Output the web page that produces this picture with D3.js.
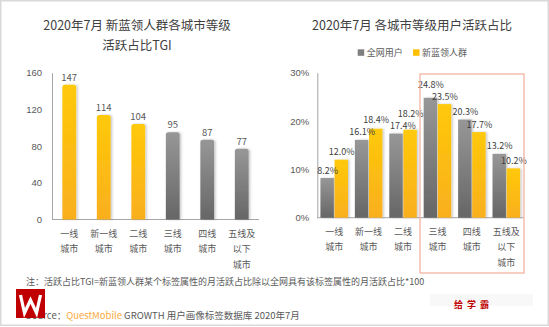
<!DOCTYPE html>
<html><head><meta charset="utf-8">
<script src="https://cdn.jsdelivr.net/npm/d3@7"></script>
<style>
html,body{margin:0;padding:0;background:#fff;}
svg{display:block;font-family:"Noto Sans CJK SC","Noto Sans",sans-serif;}
</style></head>
<body><svg id="c" width="549" height="327"></svg>
<script>
// ---- data ----
const cities = ["一线城市","新一线城市","二线城市","三线城市","四线城市","五线及以下城市"];
const cityLines = [["一线","城市"],["新一线","城市"],["二线","城市"],["三线","城市"],["四线","城市"],["五线及","以下","城市"]];
const tgiValues = [147,114,104,95,87,77];
const tgiHighlight = [true,true,true,false,false,false];
const tgiTicks = [0,40,80,120,160];
const seriesNames = ["全网用户","新蓝领人群"];
const allUsers = [8.2,16.1,17.4,24.8,20.3,13.2];
const blueCollar = [12.0,18.4,18.2,23.5,17.7,10.2];
const pctTicks = [0,10,20,30];

const svg = d3.select("#c");
const defs = svg.append("defs");
function grad(id, top, bottom){
  const g = defs.append("linearGradient").attr("id",id).attr("x1",0).attr("y1",0).attr("x2",0).attr("y2",1);
  g.append("stop").attr("offset","0%").attr("stop-color",top);
  g.append("stop").attr("offset","100%").attr("stop-color",bottom);
}
grad("gy","#FFC907","#F9AF1F");
grad("gg","#979797","#666666");
const f = defs.append("filter").attr("id","sh").attr("x","-30%").attr("y","-10%").attr("width","160%").attr("height","120%");
f.append("feDropShadow").attr("dx",1.5).attr("dy",0).attr("stdDeviation",1).attr("flood-color","#000").attr("flood-opacity",0.22);

const textCol = "#595959";
const axisCol = "#a6a6a6";

// frame
svg.append("rect").attr("x",0.75).attr("y",0.75).attr("width",547.5).attr("height",324.5)
  .attr("fill","none").attr("stroke","#d9d9d9").attr("stroke-width",1.5);

// ---------- left chart ----------
const yL = d3.scaleLinear().domain([0,160]).range([219.5,72.7]);
const xL = d3.scaleBand().domain(cities).range([52,259]).paddingInner(0.6).paddingOuter(0.3);

svg.append("text").attr("x",137).attr("y",30).attr("text-anchor","middle").attr("font-size",12.5).attr("fill","#404040").text("2020年7月 新蓝领人群各城市等级");
svg.append("text").attr("x",137).attr("y",50).attr("text-anchor","middle").attr("font-size",12.5).attr("fill","#404040").text("活跃占比TGI");

const axL = svg.append("g").attr("transform","translate(52,0)")
  .call(d3.axisLeft(yL).tickValues(tgiTicks).tickSize(0).tickPadding(10).tickSizeOuter(0));
axL.select(".domain").attr("stroke",axisCol);
axL.selectAll("text").attr("font-size",9.5).attr("fill",textCol).attr("font-family","inherit");

svg.append("line").attr("x1",52).attr("x2",259).attr("y1",yL(0)).attr("y2",yL(0)).attr("stroke",axisCol);

function topRounded(x,y,w,h,r){
  return `M${x},${y+h}V${y+r}Q${x},${y} ${x+r},${y}H${x+w-r}Q${x+w},${y} ${x+w},${y+r}V${y+h}Z`;
}
svg.append("g").selectAll("path").data(tgiValues).join("path")
  .attr("d",(d,i)=>topRounded(xL(cities[i]), yL(d), xL.bandwidth(), yL(0)-yL(d), 2.5))
  .attr("fill",(d,i)=>tgiHighlight[i]?"url(#gy)":"url(#gg)")
  .attr("filter","url(#sh)");
svg.append("g").selectAll("text").data(tgiValues).join("text")
  .attr("x",(d,i)=>xL(cities[i])+xL.bandwidth()/2).attr("y",d=>yL(d)-4)
  .attr("text-anchor","middle").attr("font-size",9.5).attr("fill",textCol).text(d=>d);

const catL = svg.append("g").selectAll("text").data(cityLines).join("text")
  .attr("text-anchor","middle").attr("font-size",9).attr("fill",textCol);
catL.each(function(lines,i){
  d3.select(this).selectAll("tspan").data(lines).join("tspan")
    .attr("x",xL(cities[i])+xL.bandwidth()/2).attr("y",(d,j)=>236.5+j*15.8).text(d=>d);
});

// ---------- right chart ----------
const yR = d3.scaleLinear().domain([0,30]).range([217.7,72.7]);
const x0 = d3.scaleBand().domain(cities).range([317,523.5]).paddingInner(0.2).paddingOuter(0.1);
const x1 = d3.scaleBand().domain(seriesNames).range([0,x0.bandwidth()]).paddingInner(0.05);
const sCol = {"全网用户":"url(#gg)","新蓝领人群":"url(#gy)"};
const sLeg = {"全网用户":"#7f7f7f","新蓝领人群":"#FFC000"};

svg.append("text").attr("x",412).attr("y",30).attr("text-anchor","middle").attr("font-size",12.5).attr("fill","#404040").text("2020年7月 各城市等级用户活跃占比");

// legend
const legX = [357.7, 413];
const leg = svg.append("g").selectAll("g").data(seriesNames).join("g")
  .attr("transform",(d,i)=>`translate(${legX[i]},49.3)`);
leg.append("rect").attr("width",6.5).attr("height",6.5).attr("fill",d=>sLeg[d]);
leg.append("text").attr("x",9).attr("y",7).attr("font-size",9).attr("fill",textCol).text(d=>d);

const axR = svg.append("g").attr("transform","translate(317.3,0)")
  .call(d3.axisLeft(yR).tickValues(pctTicks).tickSize(0).tickPadding(8).tickFormat(d=>d+"%"));
axR.select(".domain").attr("stroke",axisCol);
axR.selectAll("text").attr("font-size",9.5).attr("fill",textCol).attr("font-family","inherit");
svg.append("line").attr("x1",317).attr("x2",523.5).attr("y1",yR(0)).attr("y2",yR(0)).attr("stroke",axisCol);

// label positions: above bar top, lifting the higher label when the pair would collide
const rows = cities.map((c,i)=>{
  const vals = [{s:seriesNames[0],v:allUsers[i]},{s:seriesNames[1],v:blueCollar[i]}];
  vals.forEach(o=>o.ly = yR(o.v)-4.5);
  const gap = 12;
  const [a,b] = vals;
  if (Math.abs(a.ly-b.ly) < gap){
    if (a.v >= b.v) a.ly = b.ly - gap; else b.ly = a.ly - gap;
  }
  return {city:c, vals};
});
const grp = svg.append("g").selectAll("g").data(rows).join("g")
  .attr("transform",d=>`translate(${x0(d.city)},0)`);
grp.selectAll("rect").data(d=>d.vals).join("rect")
  .attr("x",d=>x1(d.s)).attr("y",d=>yR(d.v)).attr("width",x1.bandwidth()).attr("height",d=>yR(0)-yR(d.v))
  .attr("fill",d=>sCol[d.s]).attr("filter","url(#sh)");
const vLabels = grp.selectAll("text").data(d=>d.vals).join("text")
  .attr("x",d=>x1(d.s)+x1.bandwidth()/2+0.5).attr("y",d=>d.ly)
  .attr("text-anchor","middle").attr("font-size",9).attr("fill","#404040").text(d=>d.v.toFixed(1)+"%");

// horizontal de-collision between neighbouring groups' labels
const placed = [];
vLabels.each(function(d){
  const el = this;
  const off = +el.parentNode.getAttribute("transform").match(/translate\(([-\d.]+)/)[1];
  let bb = el.getBBox();
  let left = bb.x + off, right = left + bb.width;
  placed.forEach(p=>{
    if (Math.abs(p.ly - d.ly) < 10 && left < p.right + 1 && right > p.left){
      const shift = p.right + 1 - left;
      el.setAttribute("x", +el.getAttribute("x") + shift);
      left += shift; right += shift;
    }
  });
  placed.push({ly:d.ly, left, right});
});

const catR = svg.append("g").selectAll("text").data(cityLines).join("text")
  .attr("text-anchor","middle").attr("font-size",9).attr("fill",textCol);
catR.each(function(lines,i){
  d3.select(this).selectAll("tspan").data(lines).join("tspan")
    .attr("x",x0(cities[i])+x0.bandwidth()/2).attr("y",(d,j)=>235+j*15.3).text(d=>d);
});

// highlight box
svg.append("rect").attr("x",420).attr("y",74).attr("width",104).attr("height",199)
  .attr("fill","none").attr("stroke","#F4B3A2").attr("stroke-width",1.3);

// ---------- footer ----------
svg.append("text").attr("x",26).attr("y",284.5).attr("font-size",9).attr("fill",textCol)
  .text("注：活跃占比TGI=新蓝领人群某个标签属性的月活跃占比除以全网具有该标签属性的月活跃占比*100");
const src = svg.append("text").attr("x",26).attr("y",318.5).attr("font-size",9.5).attr("fill",textCol);
src.append("tspan").text("Source：");
src.append("tspan").attr("fill","#F9A93B").text("QuestMobile");
src.append("tspan").text(" GROWTH 用户画像标签数据库 2020年7月");

svg.append("rect").attr("x",430).attr("y",294).attr("width",103).attr("height",12).attr("fill","#f8f8f8");
svg.append("text").attr("x",454).attr("y",308).attr("font-size",9).attr("font-weight","bold")
  .attr("letter-spacing",4).attr("fill","#C00000").text("给学霸");

// logo (graphic)
svg.append("rect").attr("x",16).attr("y",289).attr("width",29).attr("height",29).attr("fill","#C00000");
svg.append("path").attr("d","M20.5,295 L24.5,313 L30.5,300 L36.5,313 L40.5,295")
  .attr("fill","none").attr("stroke","#fff").attr("stroke-width",3.2).attr("stroke-linejoin","miter");
</script></body></html>
